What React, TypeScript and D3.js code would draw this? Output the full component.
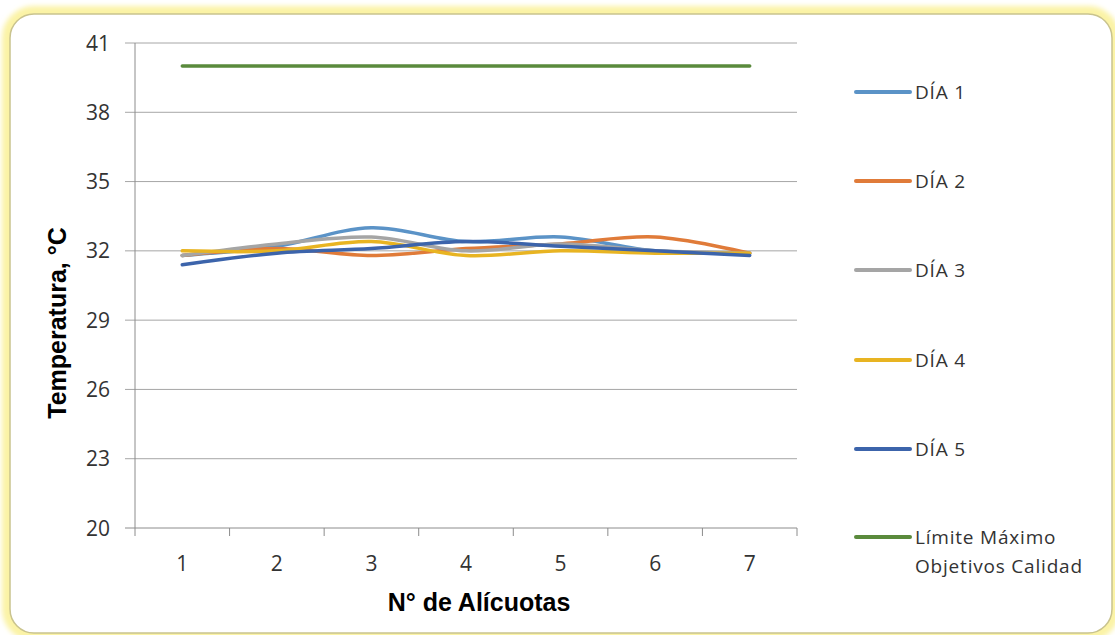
import React from "react";
import * as d3 from "d3";

// Aliquot numbers along the x axis
const categories: number[] = [1, 2, 3, 4, 5, 6, 7];

// Temperature readings (°C) per day
const dia1: number[] = [31.8, 32.2, 33.0, 32.4, 32.6, 32.0, 31.9];
const dia2: number[] = [31.8, 32.1, 31.8, 32.1, 32.3, 32.6, 31.9];
const dia3: number[] = [31.8, 32.3, 32.6, 32.0, 32.3, 32.0, 31.9];
const dia4: number[] = [32.0, 32.0, 32.4, 31.8, 32.0, 31.9, 31.9];
const dia5: number[] = [31.4, 31.9, 32.1, 32.4, 32.2, 32.0, 31.8];
const limite: number[] = [40, 40, 40, 40, 40, 40, 40];

const yTicks: number[] = [20, 23, 26, 29, 32, 35, 38, 41];

const seriesNames: string[] = ["DÍA 1", "DÍA 2", "DÍA 3", "DÍA 4", "DÍA 5", "Límite Máximo|Objetivos Calidad"];
const seriesColors: string[] = ["#5b93c7", "#e07b39", "#a5a5a5", "#e8b422", "#3c64ab", "#5a8a3c"];
const seriesValues: number[][] = [dia1, dia2, dia3, dia4, dia5, limite];

const W = 1115;
const H = 635;
const plot = { left: 135, right: 797, top: 43, bottom: 528 };

export default function App() {
  const x = d3
    .scalePoint<number>()
    .domain(categories)
    .range([plot.left, plot.right])
    .padding(0.5);
  const y = d3.scaleLinear().domain([20, 41]).range([plot.bottom, plot.top]);
  const step = x.step();
  const bandEdges = d3.range(categories.length + 1).map((i) => plot.left + i * step);

  const line = d3
    .line<number>()
    .x((_, i) => x(categories[i]) as number)
    .y((d) => y(d))
    .curve(d3.curveCardinal.tension(0));

  const tickFont = "'Open Sans', 'Liberation Sans', sans-serif";
  const titleFont = "'Liberation Sans', Arial, sans-serif";
  const legendRows = [92, 181, 270, 360, 449, 537];

  // limit line first, then the days on top
  const drawOrder = [5, 0, 1, 2, 3, 4];

  return (
    <svg
      width={W}
      height={H}
      style={{ position: "absolute", left: 0, top: 0, background: "#ffffff" }}
    >
      <defs>
        <filter id="glow" x="-5%" y="-5%" width="110%" height="110%">
          <feGaussianBlur stdDeviation="2.5" />
        </filter>
      </defs>
      {/* frame */}
      <rect x={10} y={14} width={1102} height={619} rx={24} fill="none" stroke="#fbf3a6" strokeWidth={16} filter="url(#glow)" />
      <rect x={10} y={14} width={1102} height={619} rx={24} fill="#ffffff" stroke="#c9c38e" strokeWidth={1.5} />

      {/* gridlines and y ticks */}
      {yTicks.map((t) => (
        <g key={t}>
          <line x1={plot.left - 10} x2={plot.right} y1={y(t)} y2={y(t)} stroke={t === 20 ? "#8c8c8c" : "#a6a6a6"} strokeWidth={1} />
          <text
            x={110}
            y={y(t)}
            dy="0.36em"
            textAnchor="end"
            fontFamily={tickFont}
            fontSize={21}
            fill="#333333"
          >
            {t}
          </text>
        </g>
      ))}
      {/* y axis */}
      <line x1={plot.left} x2={plot.left} y1={plot.top} y2={plot.bottom} stroke="#8c8c8c" strokeWidth={1} />

      {/* x ticks */}
      {bandEdges.map((bx, i) => (
        <line key={i} x1={bx} x2={bx} y1={plot.bottom} y2={plot.bottom + 8} stroke="#8c8c8c" strokeWidth={1} />
      ))}
      {categories.map((c) => (
        <text
          key={c}
          x={x(c)}
          y={571}
          textAnchor="middle"
          fontFamily={tickFont}
          fontSize={21}
          fill="#333333"
        >
          {c}
        </text>
      ))}

      {/* series */}
      {drawOrder.map((i) => (
        <path
          key={i}
          d={line(seriesValues[i]) || ""}
          fill="none"
          stroke={seriesColors[i]}
          strokeWidth={3.5}
          strokeLinecap="round"
          strokeLinejoin="round"
        />
      ))}

      {/* axis titles */}
      <text
        x={479}
        y={611}
        textAnchor="middle"
        fontFamily={titleFont}
        fontWeight="bold"
        fontSize={25}
        fill="#000000"
      >
        N° de Alícuotas
      </text>
      <text
        transform="translate(66, 323) rotate(-90)"
        textAnchor="middle"
        fontFamily={titleFont}
        fontWeight="bold"
        fontSize={25}
        fill="#000000"
      >
        Temperatura, °C
      </text>

      {/* legend */}
      {seriesNames.map((name, i) => {
        const ly = legendRows[i];
        const parts = name.split("|");
        return (
          <g key={name}>
            <line x1={856} x2={910} y1={ly} y2={ly} stroke={seriesColors[i]} strokeWidth={4} strokeLinecap="round" />
            {parts.map((p, j) => (
              <text
                key={j}
                x={915}
                y={ly + 7 + j * 29}
                fontFamily={tickFont}
                fontSize={19}
                letterSpacing={0.8}
                fill="#333333"
              >
                {p}
              </text>
            ))}
          </g>
        );
      })}
    </svg>
  );
}
